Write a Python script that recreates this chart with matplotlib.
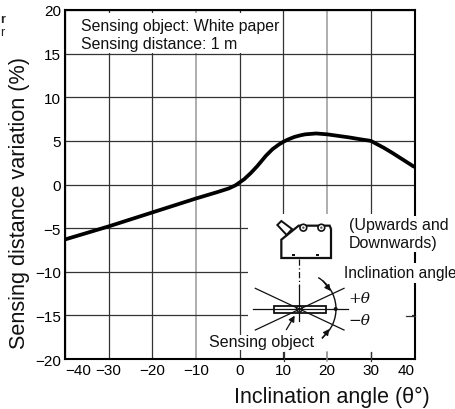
import numpy as np
import matplotlib
matplotlib.use("Agg")
import matplotlib.pyplot as plt
from matplotlib.patches import Arc, Rectangle, Circle, Polygon

plt.rcParams['font.family'] = ['Liberation Sans', 'DejaVu Sans']

# Data
angle = [-40, -30, -20, -10, -5, -2.5, -1, 0, 1, 2.5, 4, 5, 6, 7.5, 9, 10, 11, 12.5, 14, 15, 17.5, 20, 25, 28, 30, 31.5, 33, 35, 37.5, 40]
variation = [-6.3, -4.8, -3.2, -1.6, -0.85, -0.45, -0.1, 0.25, 0.6, 1.3, 2.1, 2.7, 3.3, 4.05, 4.6, 4.9, 5.15, 5.45, 5.65, 5.75, 5.85, 5.75, 5.4, 5.15, 5.0, 4.6, 4.2, 3.6, 2.8, 2.0]
x_ticks = [-40, -30, -20, -10, 0, 10, 20, 30, 40]
y_ticks = [-20, -15, -10, -5, 0, 5, 10, 15, 20]
gray_x = [-10, 20]
info_lines = "Sensing object: White paper\nSensing distance: 1 m"
x_title = "Inclination angle (θ°)"
y_title = "Sensing distance variation (%)"

W, H = 456, 410
fig = plt.figure(figsize=(W / 100, H / 100), dpi=100)
L, R, T, B = 65, 414.5, 11, 360
ax = fig.add_axes([L / W, 1 - B / H, (R - L) / W, (B - T) / H])
ax.set_xlim(-40, 40)
ax.set_ylim(-20, 20)
ax.set_xticks(x_ticks)
ax.set_yticks(y_ticks)
ax.set_xticklabels([str(v).replace('-', '\u2212') for v in x_ticks], fontsize=11)
ax.set_yticklabels([str(v).replace('-', '\u2212') for v in y_ticks], fontsize=11)
ax.tick_params(length=0, pad=3)
labels = ax.get_xticklabels()
labels[0].set_ha('left')
labels[-1].set_ha('right')
ax.grid(True, color='#333333', lw=0.9)
for v, gl in zip(x_ticks, ax.get_xgridlines()):
    if v in gray_x:
        gl.set_color('#999999')
        gl.set_linewidth(1.1)
ax.set_axisbelow(True)
for s in ax.spines.values():
    s.set_linewidth(1.5)
    s.set_color('black')
    s.set_zorder(1.5)
ax.plot(angle, variation, color='black', lw=2.7, zorder=3, solid_capstyle='butt', solid_joinstyle='round')

# overlay in pixel coordinates for annotations and the sensor diagram
ov = fig.add_axes([0, 0, 1, 1], facecolor='none')
ov.set_xlim(0, W)
ov.set_ylim(H, 0)
ov.axis('off')

ov.add_patch(Rectangle((70, 14), 212, 39.5, fc='white', ec='none', zorder=1))
ov.add_patch(Rectangle((248, 215), 164, 138, fc='white', ec='none', zorder=1))
ov.add_patch(Rectangle((342, 264), 114, 20, fc='white', ec='none', zorder=1))
ov.add_patch(Rectangle((344, 217), 72, 36, fc='white', ec='none', zorder=1))
ov.add_patch(Rectangle((207, 336), 108, 15, fc='white', ec='none', zorder=1))

ov.text(81, 27, info_lines.split("\n")[0], fontsize=11.4, va='center', color='#111111')
ov.text(81, 44.5, info_lines.split("\n")[1], fontsize=11.4, va='center', color='#111111')
ov.text(20, 203, y_title, fontsize=15.6, rotation=90, va='center', ha='center', color='#111111')
ov.text(332, 397, x_title, fontsize=15.5, va='center', ha='center', color='#111111')
ov.text(349, 226, "(Upwards and", fontsize=11.5, va='center', color='#111111')
ov.text(349, 244, "Downwards)", fontsize=11.5, va='center', color='#111111')
ov.text(344, 274, "Inclination angle", fontsize=11.2, va='center', color='#111111')
ov.text(209, 343, "Sensing object", fontsize=11.5, va='center', color='#111111')
ov.text(348, 299.5, "+θ", fontsize=11, va='center', family='DejaVu Serif', style='italic', color='#111111')
ov.text(348, 321, "−θ", fontsize=11, va='center', family='DejaVu Serif', style='italic', color='#111111')
ov.text(0, 20, "r", fontsize=9, va='center', weight='bold', color='#222222')
ov.text(0, 33, "r", fontsize=9, va='center', color='#222222')

def z(x, y):
    return 228 + x / 3, 180 + y / 3

def seg(p, q, **kw):
    a, b = z(*p), z(*q)
    ov.plot([a[0], b[0]], [a[1], b[1]], color=kw.pop('color', '#111111'), lw=kw.pop('lw', 0.9), zorder=4, **kw)

# short ticks left where the diagram's white area interrupts the grid
seg((167, 520), (167, 545), color='#333333')
seg((297, 520), (297, 545), color='#999999', lw=1.1)
seg((429, 520), (429, 545), color='#333333')
seg((535, 410), (560, 410), color='#333333')

# sensor body
ov.add_patch(Polygon([z(160, 237), z(160, 182), z(212, 140), z(305, 140), z(309, 150), z(309, 237)],
                     closed=True, fc='white', ec='#111111', lw=1.6, zorder=4))
ov.add_patch(Polygon([z(148, 138), z(160, 126), z(192, 150), z(176, 168)],
                     closed=True, fc='white', ec='#111111', lw=1.4, zorder=4))
for cx in (226, 280):
    ov.add_patch(Circle(z(cx, 146), 3.4, fc='white', ec='#111111', lw=1.2, zorder=5))
    ov.add_patch(Circle(z(cx, 146), 1.2, fc='#555555', ec='none', zorder=6))
for cx in (196, 268):
    ov.add_patch(Rectangle(z(cx - 5, 226), 3.3, 1.5, fc='#111111', ec='none', zorder=5))
seg((214, 240), (214, 320), ls=(0, (5, 2, 1, 2)))
seg((214, 320), (214, 425))
seg((82, 328), (348, 453))
seg((82, 453), (348, 328))
seg((75, 390), (360, 390))
ov.add_patch(Rectangle(z(138, 380), 155 / 3, 23 / 3, fc='none', ec='#111111', lw=1.3, zorder=5))
ov.add_patch(Circle(z(214, 390), 3, fc='none', ec='#111111', lw=0.9, zorder=5))
ov.add_patch(Arc(z(214, 390), 2 * 110 / 3, 2 * 110 / 3, theta1=-59, theta2=52, ec='#111111', lw=1.0, zorder=5))
ov.add_patch(Circle(z(323, 390), 2, fc='#111111', ec='none', zorder=6))
for tail, head in [((285, 306), (308, 336)), ((283, 478), (304, 450)), ((175, 452), (200, 410))]:
    ov.annotate("", xy=z(*head), xytext=z(*tail),
                arrowprops=dict(arrowstyle='-|>,head_width=0.18,head_length=0.35', color='#111111', lw=0.9,
                                shrinkA=0, shrinkB=0), zorder=6)

fig.savefig("out.png", dpi=100)
